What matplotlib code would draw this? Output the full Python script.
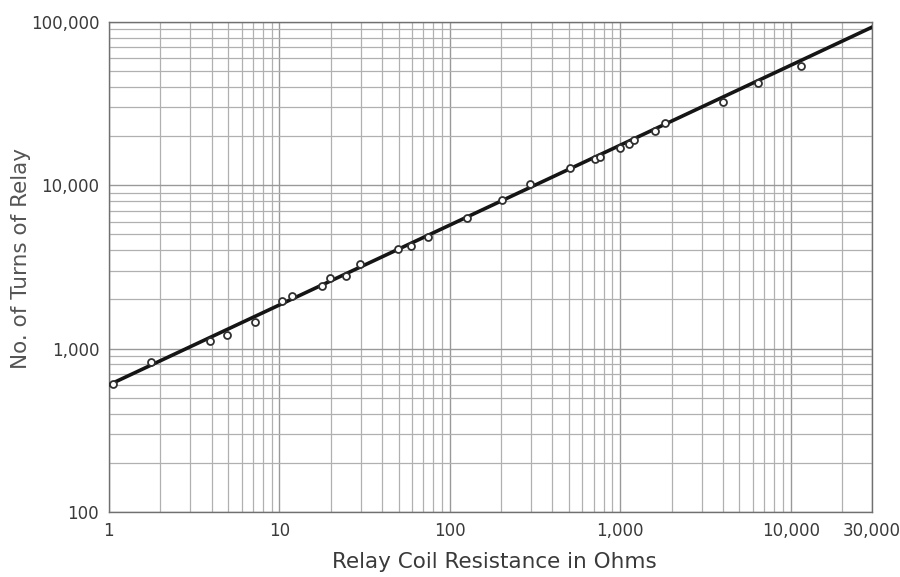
import numpy as np
import matplotlib.pyplot as plt
from matplotlib.ticker import FixedLocator, LogLocator, NullFormatter

# measured points (resistance in ohms, number of turns)
res_ohms = [1.05, 1.76, 3.91, 4.91, 7.19, 10.3, 11.9, 17.9, 19.8, 24.6,
            29.7, 49.9, 58.9, 74.8, 125.6, 201.6, 295.6, 507, 711, 761,
            997, 1127, 1206, 1600, 1832, 4030, 6460, 11460]
turns = [605, 832, 1114, 1213, 1462, 1967, 2103, 2422, 2697, 2798,
         3304, 4093, 4277, 4810, 6339, 8148, 10210, 12740, 14520, 14870,
         16870, 17840, 18970, 21630, 23990, 32590, 42570, 53830]

# fitted straight line
fit_r = [1, 30000]
fit_n = [600, 93000]

x_ticks = [1, 10, 100, 1000, 10000, 30000]
x_labels = ['1', '10', '100', '1,000', '10,000', '30,000']
y_ticks = [100, 1000, 10000, 100000]
y_labels = ['100', '1,000', '10,000', '100,000']

txt = '#3a3a3a'
grid_c = '#b0b0b0'

fig = plt.figure(figsize=(9, 5.77), dpi=100)
ax = fig.add_axes([0.121, 0.1127, 0.848, 0.8492])
ax.set_xscale('log')
ax.set_yscale('log')
ax.set_xlim(1, 30000)
ax.set_ylim(100, 100000)

ax.xaxis.set_major_locator(FixedLocator(x_ticks))
ax.set_xticklabels(x_labels)
ax.yaxis.set_major_locator(FixedLocator(y_ticks))
ax.set_yticklabels(y_labels)
ax.xaxis.set_minor_locator(LogLocator(base=10, subs=np.arange(2, 10), numticks=20))
ax.yaxis.set_minor_locator(LogLocator(base=10, subs=np.arange(2, 10), numticks=20))
ax.xaxis.set_minor_formatter(NullFormatter())
ax.yaxis.set_minor_formatter(NullFormatter())

ax.grid(True, which='major', color='#999999', lw=1.0)
ax.grid(True, which='minor', color=grid_c, lw=0.9)
ax.set_axisbelow(True)
ax.tick_params(which='both', length=0, labelsize=12, labelcolor=txt, pad=7)

for s in ax.spines.values():
    s.set_color('#707070')
    s.set_linewidth(1.0)

ax.plot(fit_r, fit_n, color='#151515', lw=2.6, zorder=3)
ax.plot(res_ohms, turns, 'o', ms=5, mfc='white', mec='#303030', mew=1.3, zorder=4)

ax.set_xlabel('Relay Coil Resistance in Ohms', fontsize=15.5, color=txt)
ax.set_ylabel('No. of Turns of Relay', fontsize=15.5, color='#555555')
ax.xaxis.set_label_coords(0.505, -0.082)
ax.yaxis.set_label_coords(-0.102, 0.518)

fig.savefig('out.png', dpi=100)
